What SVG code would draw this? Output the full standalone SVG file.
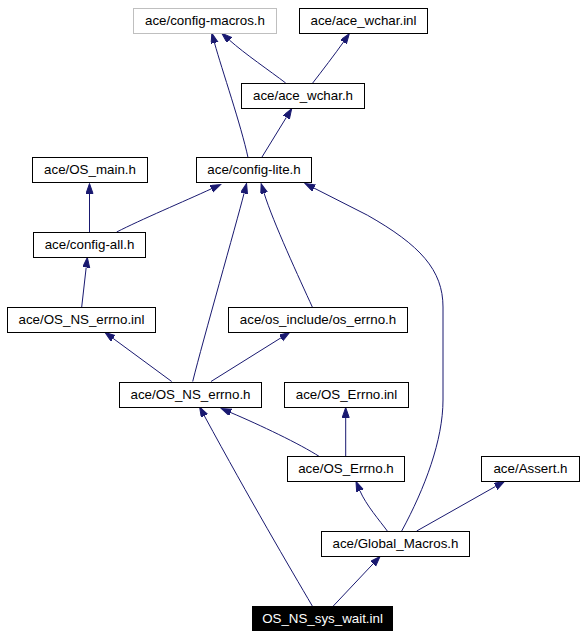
<svg xmlns="http://www.w3.org/2000/svg" width="584" height="637" viewBox="0 0 584 637">
<defs>
<marker id="ah" markerUnits="userSpaceOnUse" markerWidth="11" markerHeight="9" refX="0" refY="3.5" orient="auto">
<path d="M0,0 L10,3.5 L0,7 z" fill="#191970" stroke="#191970" stroke-width="1"/>
</marker>
<style>
.n rect{fill:#ffffff;stroke:#000000;stroke-width:1}
.n text{font-family:"Liberation Sans",Arial,Helvetica,sans-serif;font-size:13.33px;fill:#000000;text-anchor:middle}
.g rect{stroke:#bfbfbf}
.r rect{fill:#000000;stroke:#000000}
.r text{fill:#ffffff}
#edges path{fill:none;stroke:#191970;stroke-width:1;marker-end:url(#ah)}
</style>
</defs>
<rect x="0" y="0" width="584" height="637" fill="#ffffff"/>
<g id="edges">
<path d="M248,157.5 C241,125 222,70 214.5,42.9"/>
<path d="M285.7,83 C270,71 245,54 229.3,40"/>
<path d="M312.7,83 C322,71 335,54 343.5,42"/>
<path d="M261.7,157.5 L286.4,117.3"/>
<path d="M89.5,232.5 L89.5,193.5"/>
<path d="M116.7,232 C140,220 185,201 211.5,188.75"/>
<path d="M81.7,307 L86.2,267.4"/>
<path d="M171.7,381.5 L113.1,338.4"/>
<path d="M192.7,381.5 C203,340 236,225 244.1,193.2"/>
<path d="M312.3,307 C300,280 273,222 264.1,193.2"/>
<path d="M211,381.5 L281,337.8"/>
<path d="M401.7,531 C425,488 443,440 443,400 L443,307 C443,270 420,245 367.4,215.2 L313.9,188"/>
<path d="M312.3,606 C290,568 250,500 204.4,415.9"/>
<path d="M319.3,456.5 C300,444 260,425 230.6,412.5"/>
<path d="M345.7,456.5 L345.7,417.5"/>
<path d="M387.3,531 C380,521 366,505 359.9,490.7"/>
<path d="M416.7,531 L495.6,486.4"/>
<path d="M333.3,606 L373.1,563.8"/>
</g>
<g id="n_config_macros" class="n g"><rect x="133.5" y="8.5" width="143" height="25"/><text x="205" y="25">ace/config-macros.h</text></g>
<g id="n_ace_wchar_inl" class="n"><rect x="299.5" y="8.5" width="128" height="25"/><text x="363.5" y="25">ace/ace_wchar.inl</text></g>
<g id="n_ace_wchar_h" class="n"><rect x="241.5" y="83.5" width="123" height="25"/><text x="303" y="100">ace/ace_wchar.h</text></g>
<g id="n_os_main" class="n"><rect x="32.5" y="157.5" width="115" height="25"/><text x="90" y="174">ace/OS_main.h</text></g>
<g id="n_config_lite" class="n"><rect x="196.5" y="157.5" width="115" height="25"/><text x="254" y="174">ace/config-lite.h</text></g>
<g id="n_config_all" class="n"><rect x="33.5" y="232.5" width="112" height="25"/><text x="89.5" y="249">ace/config-all.h</text></g>
<g id="n_os_ns_errno_inl" class="n"><rect x="7.5" y="307.5" width="148" height="25"/><text x="81.5" y="324">ace/OS_NS_errno.inl</text></g>
<g id="n_os_errno_h_inc" class="n"><rect x="228.5" y="307.5" width="179" height="25"/><text x="318" y="324">ace/os_include/os_errno.h</text></g>
<g id="n_os_ns_errno_h" class="n"><rect x="119.5" y="382.5" width="142" height="25"/><text x="190.5" y="399">ace/OS_NS_errno.h</text></g>
<g id="n_os_errno_inl" class="n"><rect x="284.5" y="382.5" width="124" height="25"/><text x="346.5" y="399">ace/OS_Errno.inl</text></g>
<g id="n_os_errno_h" class="n"><rect x="287.5" y="456.5" width="117" height="25"/><text x="346" y="473">ace/OS_Errno.h</text></g>
<g id="n_assert" class="n"><rect x="481.5" y="456.5" width="98" height="25"/><text x="530.5" y="473">ace/Assert.h</text></g>
<g id="n_global_macros" class="n"><rect x="321.5" y="531.5" width="148" height="25"/><text x="395.5" y="548">ace/Global_Macros.h</text></g>
<g id="n_os_ns_sys_wait" class="n r"><rect x="252.5" y="606.5" width="140" height="24"/><text x="322.5" y="622.5">OS_NS_sys_wait.inl</text></g>
</svg>
